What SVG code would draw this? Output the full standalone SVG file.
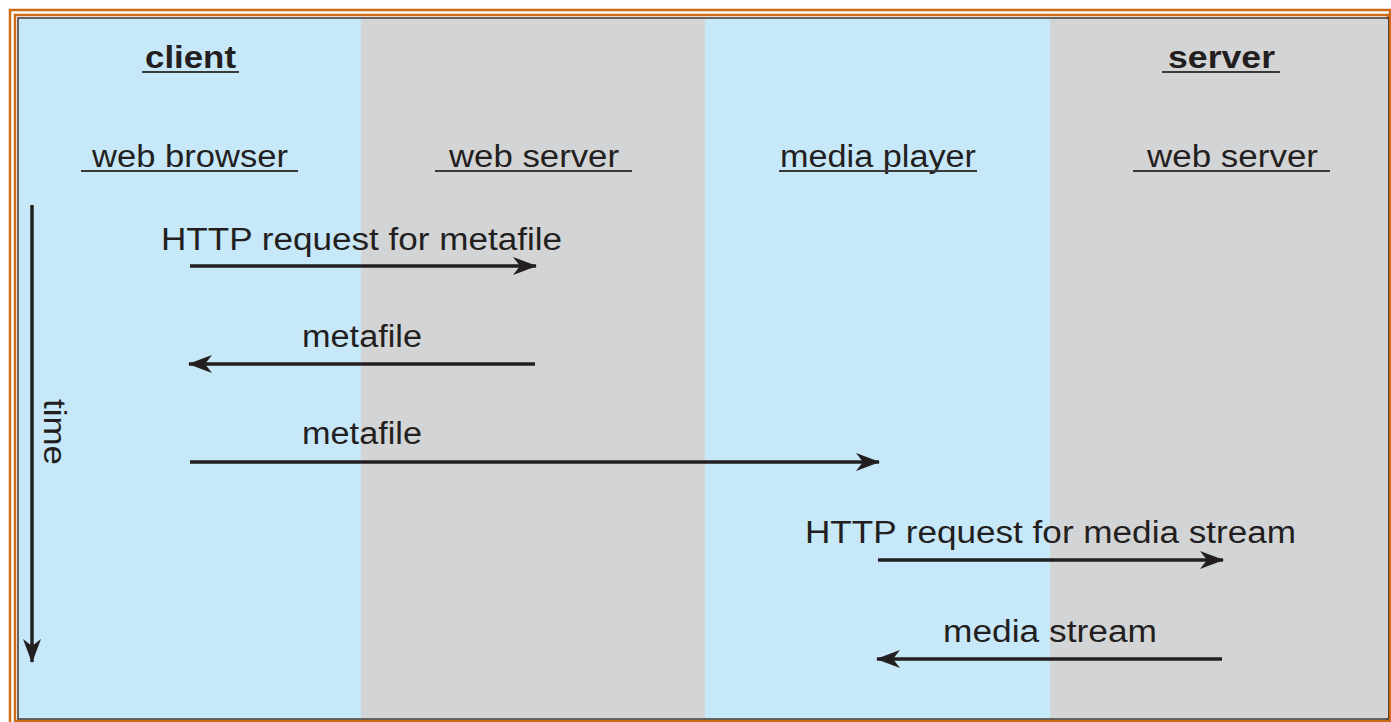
<svg xmlns="http://www.w3.org/2000/svg" width="1391" height="722" viewBox="0 0 1391 722">
  <style>
    .lbl { font-family: "Liberation Sans", Arial, sans-serif; font-size: 31px; fill: #231f20; }
    .hdr { font-family: "Liberation Sans", Arial, sans-serif; font-size: 31px; font-weight: bold; fill: #231f20; }
    .ul { stroke: #3a3a3a; stroke-width: 2; }
    .arr { stroke: #231f20; stroke-width: 3.5; fill: none; marker-end: url(#head); }
    .blue { fill: #c7e8f9; }
    .gray { fill: #d3d4d5; }
  </style>
  <defs>
    <marker id="head" markerUnits="userSpaceOnUse" viewBox="0 0 24 18" refX="23" refY="9" markerWidth="24" markerHeight="18" orient="auto">
      <path d="M24,9 L0,0 L7,9 L0,18 Z" fill="#231f20"/>
    </marker>
  </defs>
  <rect x="0" y="0" width="1391" height="722" fill="#ffffff"/>
  <g id="frame">
    <rect x="10" y="10" width="1380" height="716" fill="none" stroke="#cf6a17" stroke-width="2.5"/>
    <rect x="15" y="15" width="1373" height="706" fill="none" stroke="#cf6a17" stroke-width="2.5"/>
    <rect x="18" y="18" width="1370" height="701" fill="none" stroke="#333333" stroke-width="1.5"/>
  </g>
  <g id="lanes">
    <rect class="blue" x="19" y="19" width="342" height="699"/>
    <rect class="gray" x="361" y="19" width="344" height="699"/>
    <rect class="blue" x="705" y="19" width="345" height="699"/>
    <rect class="gray" x="1050" y="19" width="338" height="699"/>
  </g>
  <g id="client-header">
    <text class="hdr" x="145" y="68" textLength="91" lengthAdjust="spacingAndGlyphs">client</text>
    <line class="ul" x1="142" y1="72" x2="239" y2="72"/>
  </g>
  <g id="server-header">
    <text class="hdr" x="1168" y="68" textLength="107" lengthAdjust="spacingAndGlyphs">server</text>
    <line class="ul" x1="1162" y1="72" x2="1280" y2="72"/>
  </g>
  <g id="web-browser">
    <text class="lbl" x="92" y="167" textLength="196" lengthAdjust="spacingAndGlyphs">web browser</text>
    <line class="ul" x1="81" y1="171" x2="298" y2="171"/>
  </g>
  <g id="web-server-client">
    <text class="lbl" x="449" y="167" textLength="170" lengthAdjust="spacingAndGlyphs">web server</text>
    <line class="ul" x1="435" y1="171" x2="632" y2="171"/>
  </g>
  <g id="media-player">
    <text class="lbl" x="780" y="167" textLength="196" lengthAdjust="spacingAndGlyphs">media player</text>
    <line class="ul" x1="779" y1="171" x2="977" y2="171"/>
  </g>
  <g id="web-server-server">
    <text class="lbl" x="1147" y="167" textLength="171" lengthAdjust="spacingAndGlyphs">web server</text>
    <line class="ul" x1="1133" y1="171" x2="1330" y2="171"/>
  </g>
  <g id="time-axis">
    <line x1="32" y1="205" x2="32" y2="662" stroke="#231f20" stroke-width="3.5" marker-end="url(#head)"/>
    <text class="lbl" transform="translate(44,399) rotate(90)" textLength="66" lengthAdjust="spacingAndGlyphs">time</text>
  </g>
  <g id="connectors">
    <line class="arr" x1="190" y1="266" x2="536" y2="266"/>
    <line class="arr" x1="535" y1="364" x2="189" y2="364"/>
    <line class="arr" x1="190" y1="462" x2="879" y2="462"/>
    <line class="arr" x1="878" y1="560" x2="1223" y2="560"/>
    <line class="arr" x1="1222" y1="659" x2="877" y2="659"/>
  </g>
  <g id="labels">
    <text class="lbl" x="161" y="250" textLength="401" lengthAdjust="spacingAndGlyphs">HTTP request for metafile</text>
    <text class="lbl" x="302" y="347" textLength="120" lengthAdjust="spacingAndGlyphs">metafile</text>
    <text class="lbl" x="302" y="444" textLength="120" lengthAdjust="spacingAndGlyphs">metafile</text>
    <text class="lbl" x="805" y="543" textLength="491" lengthAdjust="spacingAndGlyphs">HTTP request for media stream</text>
    <text class="lbl" x="943" y="642" textLength="214" lengthAdjust="spacingAndGlyphs">media stream</text>
  </g>
</svg>
